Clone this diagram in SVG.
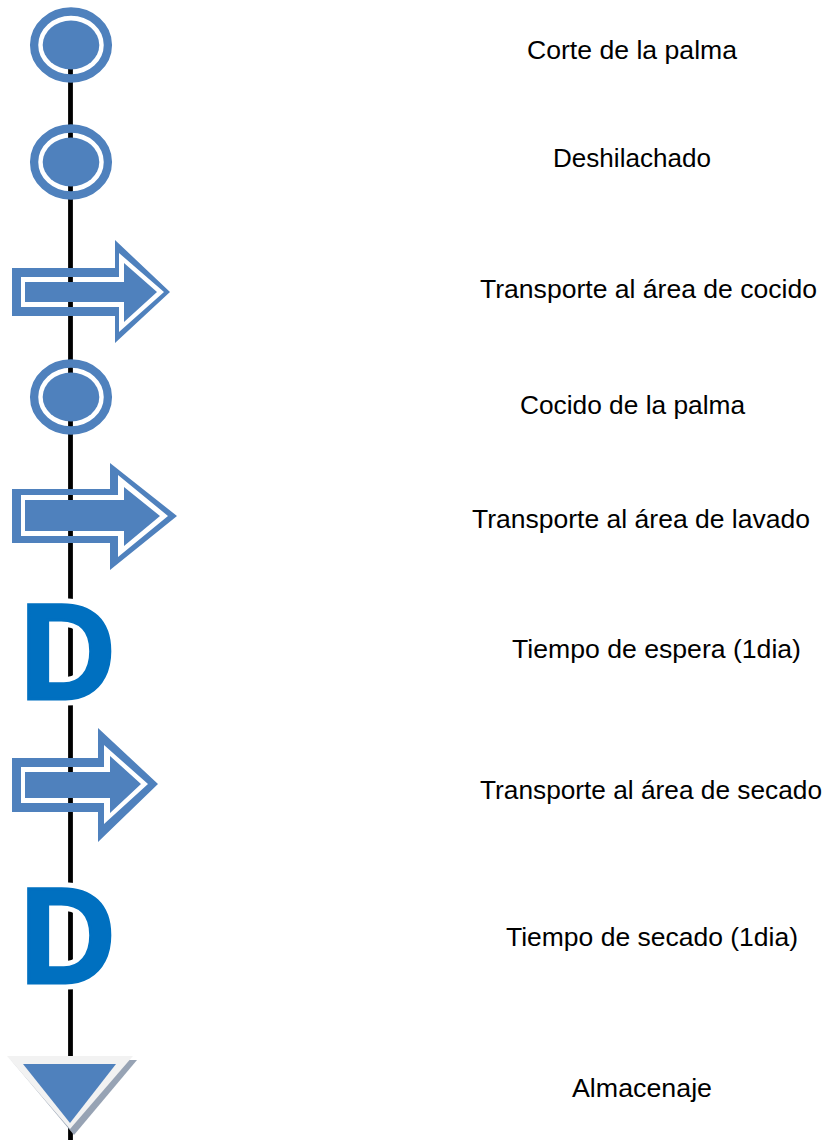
<svg xmlns="http://www.w3.org/2000/svg" width="828" height="1140" viewBox="0 0 828 1140">
<style>
.lbl{font-family:"Liberation Sans",Arial,sans-serif;font-size:26.5px;fill:#000}
.blue{fill:#4F81BD}
.ring{fill:none;stroke:#4F81BD;stroke-width:8.3}
.dtxt{font-family:"Liberation Sans",Arial,sans-serif;font-weight:bold;font-size:138px;fill:#0070C0}
</style>
<rect width="828" height="1140" fill="#fff"/>
<g id="connectors">
<line x1="70.5" y1="64" x2="70.5" y2="1140" stroke="#000" stroke-width="4.8"/>
</g>
<g id="n1">
<ellipse class="ring" cx="71" cy="45" rx="36.9" ry="33.5"/>
<ellipse class="blue" cx="71" cy="45" rx="28.3" ry="24.4"/>
<text class="lbl" x="527" y="59" textLength="210" lengthAdjust="spacingAndGlyphs">Corte de la palma</text>
</g>
<g id="n2">
<ellipse class="ring" cx="71" cy="162" rx="36.9" ry="33.5"/>
<ellipse class="blue" cx="71" cy="162" rx="28.3" ry="24.4"/>
<text class="lbl" x="553" y="167" textLength="158" lengthAdjust="spacingAndGlyphs">Deshilachado</text>
</g>
<g id="n3">
<path class="blue" fill-rule="evenodd" d="M12,268 L115,268 L115,240 L170,292 L115,343 L115,316 L12,316 Z M21,277 L119,277 L119,253 L164,292 L119,332 L119,307 L21,307 Z"/>
<path class="blue" d="M25,282 L124,282 L124,263 L157,292 L124,322 L124,302 L25,302 Z"/>
<text class="lbl" x="480" y="298" textLength="337" lengthAdjust="spacingAndGlyphs">Transporte al área de cocido</text>
</g>
<g id="n4">
<ellipse class="ring" cx="71" cy="397" rx="36.9" ry="33.5"/>
<ellipse class="blue" cx="71" cy="397" rx="28.3" ry="24.4"/>
<text class="lbl" x="520" y="414" textLength="225" lengthAdjust="spacingAndGlyphs">Cocido de la palma</text>
</g>
<g id="n5">
<path class="blue" fill-rule="evenodd" d="M12,489 L110,489 L110,463 L177,516 L110,570 L110,543 L12,543 Z M21,495 L118,495 L118,475 L168,516 L118,557 L118,536 L21,536 Z"/>
<path class="blue" d="M25,500 L124,500 L124,487 L160,516 L124,546 L124,531 L25,531 Z"/>
<text class="lbl" x="472" y="528" textLength="338" lengthAdjust="spacingAndGlyphs">Transporte al área de lavado</text>
</g>
<g id="n6">
<g transform="translate(28,699) scale(0.96,1)">
<text class="dtxt" x="-8.6" y="0" stroke="#fff" stroke-width="13" stroke-linejoin="round">D</text>
<text class="dtxt" x="-8.6" y="0" stroke="#0070C0" stroke-width="3">D</text>
</g>
<text class="lbl" x="512" y="658" textLength="289" lengthAdjust="spacingAndGlyphs">Tiempo de espera (1dia)</text>
</g>
<g id="n7">
<path class="blue" fill-rule="evenodd" d="M12,758 L98,758 L98,728 L158,784 L98,842 L98,812 L12,812 Z M21,767 L104,767 L104,745 L148,784 L104,824 L104,803 L21,803 Z"/>
<path class="blue" d="M25,772 L110,772 L110,756 L141,784 L110,813 L110,798 L25,798 Z"/>
<text class="lbl" x="480" y="799" textLength="342" lengthAdjust="spacingAndGlyphs">Transporte al área de secado</text>
</g>
<g id="n8">
<g transform="translate(28,983) scale(0.96,1)">
<text class="dtxt" x="-8.6" y="0" stroke="#fff" stroke-width="13" stroke-linejoin="round">D</text>
<text class="dtxt" x="-8.6" y="0" stroke="#0070C0" stroke-width="3">D</text>
</g>
<text class="lbl" x="506" y="946" textLength="292" lengthAdjust="spacingAndGlyphs">Tiempo de secado (1dia)</text>
</g>
<g id="n9">
<polygon points="11,1060 137,1060 74,1135" fill="#97A3B4"/>
<polygon points="7,1056 133,1056 70,1129" fill="#F2F2F2"/>
<polygon points="23,1064 116,1064 70,1123" class="blue"/>
<text class="lbl" x="572" y="1097" textLength="140" lengthAdjust="spacingAndGlyphs">Almacenaje</text>
</g>
</svg>
